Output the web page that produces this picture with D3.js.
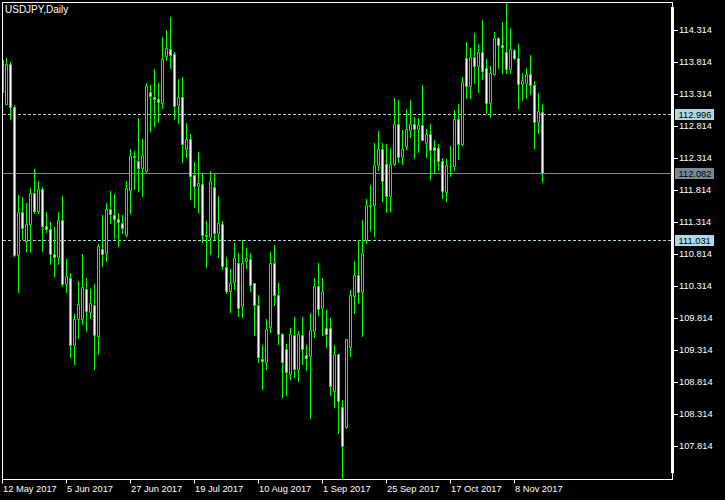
<!DOCTYPE html>
<html><head><meta charset="utf-8">
<script src="https://cdn.jsdelivr.net/npm/d3@7"></script>
<style>
html,body{margin:0;padding:0;background:#000;}
svg{display:block;}
text{font-family:"Liberation Sans",Arial,sans-serif;font-size:9px;}
</style></head><body>
<svg id="chart" width="725" height="500"></svg>
<script>
const symbolTitle = "USDJPY,Daily";

const opens = [113.841,113.164,113.789,113.117,110.799,111.477,111.024,111.289,111.774,111.486,
111.836,111.247,111.205,110.821,110.767,111.352,110.346,110.439,109.392,109.805,
109.805,110.274,109.914,110.024,109.533,110.899,110.833,111.524,111.430,111.367,
111.305,111.111,111.821,112.341,112.267,112.158,112.111,113.346,113.263,113.242,
113.180,113.908,114.024,113.935,113.142,113.274,112.461,112.617,112.044,111.883,
111.903,111.117,111.086,111.867,111.138,111.278,110.617,110.236,110.377,110.669,
110.002,110.700,110.732,110.357,110.017,109.169,109.127,109.674,110.680,110.174,
109.560,109.325,108.946,109.549,109.013,109.549,109.242,109.221,109.611,110.321,
109.971,109.664,109.664,108.674,109.258,108.430,108.117,109.361,110.158,110.482,
110.221,111.028,111.564,111.580,112.211,112.461,112.227,111.721,112.216,112.841,
112.336,112.502,112.752,112.852,112.763,112.825,112.555,112.696,112.486,112.477,
112.267,111.783,112.196,112.189,112.930,112.528,113.883,113.439,113.899,113.752,
113.977,113.727,113.174,113.622,114.196,114.086,113.977,113.711,114.002,113.883,
113.477,113.492,113.633,113.455,112.883,113.039];

const highs = [113.872,113.872,113.814,113.138,111.742,111.700,111.607,111.852,112.138,111.950,
111.861,111.466,111.310,111.232,111.477,111.716,110.732,110.524,109.872,110.388,
110.810,110.435,110.263,110.341,110.977,111.419,111.607,111.794,111.747,111.450,
111.424,111.950,112.461,112.419,112.935,112.607,113.482,113.450,113.700,113.482,
114.200,114.310,114.513,113.977,113.544,113.586,112.867,112.696,112.247,112.414,
112.086,111.325,112.107,112.060,111.721,111.330,110.774,110.586,110.982,110.825,
111.033,110.914,110.825,110.357,110.169,109.388,109.794,110.846,110.950,110.367,
109.586,109.414,109.653,109.830,109.611,109.836,109.399,109.888,110.435,110.669,
110.435,109.935,109.821,109.388,109.258,108.528,109.492,110.247,110.700,111.033,
111.341,111.669,111.888,112.544,112.732,112.555,112.539,112.477,113.258,113.216,
112.747,113.075,113.216,112.955,112.935,113.450,112.763,112.841,112.591,112.528,
112.310,112.294,112.502,113.060,113.153,113.586,114.127,114.039,114.263,114.091,
114.466,113.857,113.752,114.289,114.211,114.446,114.752,114.352,114.024,114.091,
113.649,113.727,113.919,113.517,113.336,113.153];

const lows = [113.325,113.153,112.930,110.783,110.221,111.044,110.861,110.846,111.461,111.461,
110.861,111.158,110.653,110.471,110.653,110.314,110.221,109.211,109.096,109.508,
109.716,109.607,109.814,109.013,109.247,110.627,110.705,111.294,111.064,110.939,
111.138,111.100,111.455,111.825,111.799,111.721,112.100,112.736,112.814,112.877,
113.096,113.846,113.716,112.919,112.861,112.252,112.330,111.669,111.549,111.471,
111.002,110.611,110.810,111.044,110.767,110.586,110.200,109.908,110.263,109.846,
109.830,110.602,110.236,109.549,109.127,108.700,109.013,109.596,110.013,109.414,
108.586,108.611,108.857,108.892,108.830,109.091,109.002,108.247,109.524,109.861,
109.544,109.361,108.607,108.424,108.013,107.310,108.102,109.221,109.888,110.044,
109.533,110.982,111.185,111.096,112.122,111.642,111.471,111.486,112.200,112.252,
112.227,112.450,112.642,112.314,112.408,112.591,112.330,111.982,112.086,112.122,
111.685,111.642,112.033,112.122,112.294,112.513,113.247,113.247,113.482,113.346,
113.544,113.024,112.955,113.607,113.727,113.638,113.649,113.638,113.857,113.091,
113.221,113.247,113.310,112.466,112.711,111.939];

const closes = [113.341,113.789,113.117,110.799,111.477,111.227,111.289,111.774,111.486,111.836,
111.252,111.205,110.821,110.767,111.352,110.346,110.477,109.392,109.805,110.039,
110.305,109.924,110.055,109.549,110.946,110.810,111.524,111.439,111.367,111.314,
111.221,111.852,112.352,112.330,112.158,112.367,113.446,113.283,113.242,113.189,
113.867,114.039,113.924,113.127,113.274,112.539,112.617,112.033,111.877,111.919,
111.111,111.096,111.955,111.138,111.305,110.627,110.236,110.367,110.747,109.977,
110.680,110.747,110.330,110.013,109.205,109.138,109.649,110.680,110.174,109.571,
109.127,108.971,109.560,109.024,109.560,109.336,109.189,109.622,110.321,109.950,
110.242,109.571,108.752,109.258,108.517,107.814,109.482,110.169,110.482,110.221,
110.836,111.575,111.586,112.211,112.461,111.955,111.721,112.227,112.841,112.330,
112.450,112.763,112.852,112.763,112.825,112.602,112.696,112.446,112.446,112.267,
111.799,112.200,112.193,112.930,112.539,113.508,113.439,113.899,113.752,113.977,
113.674,113.174,113.649,114.196,114.080,114.055,113.711,114.013,113.883,113.477,
113.528,113.633,113.455,112.883,113.049,112.082];

const dateTickIndex = [0,16,32,48,64,80,96,112,128];
const dateTickLabels = ["12 May 2017","5 Jun 2017","27 Jun 2017","19 Jul 2017","10 Aug 2017",
  "1 Sep 2017","25 Sep 2017","17 Oct 2017","8 Nov 2017"];
const priceTicks = [114.314,113.814,113.314,112.814,112.314,111.814,111.314,110.814,
  110.314,109.814,109.314,108.814,108.314,107.814];
const levelLines = [112.996,111.031];
const bidPrice = 112.082;

const svg = d3.select("#chart");
svg.append("rect").attr("width",725).attr("height",500).attr("fill","#000");

const x = d3.scaleLinear().domain([0,1]).range([2.5,6.5]);
const y = d3.scaleLinear().domain([107.814,114.314]).range([446.5,30.5]);
const sy = v => Math.round(y(v)-0.5)+0.5;

const bars = opens.map((o,i)=>({i,o,h:highs[i],l:lows[i],c:closes[i]}));

svg.append("defs").append("clipPath").attr("id","plotclip")
  .append("rect").attr("x",3).attr("y",3).attr("width",668).attr("height",476);

// horizontal level lines (behind candles)
const lines = svg.append("g").attr("clip-path","url(#plotclip)");
lines.selectAll("line.lvl").data(levelLines).join("line").attr("class","lvl")
  .attr("x1",3).attr("x2",671).attr("y1",d=>sy(d)).attr("y2",d=>sy(d))
  .attr("stroke","#add8e6").attr("stroke-width",1).attr("stroke-dasharray","3,2");
lines.append("line").attr("x1",3).attr("x2",671).attr("y1",sy(bidPrice)).attr("y2",sy(bidPrice))
  .attr("stroke","#778899").attr("stroke-width",1);

// candles
const cg = svg.append("g").attr("clip-path","url(#plotclip)");
cg.selectAll("line.wick").data(bars).join("line").attr("class","wick")
  .attr("x1",d=>x(d.i)).attr("x2",d=>x(d.i))
  .attr("y1",d=>sy(d.h)-0.5).attr("y2",d=>sy(d.l)+0.5)
  .attr("stroke","#00ff00").attr("stroke-width",1);
cg.selectAll("path.body").data(bars).join("path").attr("class","body")
  .attr("d",d=>{
    const t=sy(Math.max(d.o,d.c)), b=sy(Math.min(d.o,d.c)), cx=x(d.i);
    return `M${cx-1},${t}H${cx+1}V${b}H${cx-1}Z`;
  })
  .attr("fill",d=>d.c>=d.o?"#000":"#fff")
  .attr("stroke","#00ff00").attr("stroke-width",1);

// frame
svg.append("rect").attr("x",2.5).attr("y",2.5).attr("width",670).attr("height",477)
  .attr("fill","none").attr("stroke","#fff").attr("stroke-width",1);
svg.append("rect").attr("x",671).attr("y",7).attr("width",3).attr("height",466).attr("fill","#fff");

// price axis
const yAxis = d3.axisRight(y).tickValues(priceTicks).tickSize(4).tickPadding(1)
  .tickFormat(d3.format(".3f")).offset(0);
const ya = svg.append("g").attr("transform","translate(674,0)").call(yAxis);
ya.select(".domain").remove();
ya.selectAll(".tick line").attr("stroke","#fff");
ya.selectAll(".tick text").attr("fill","#fff").style("font-family",'"Liberation Sans",Arial,sans-serif').style("font-size","9.3px");

// highlighted price labels
const hl = [{v:levelLines[0],bg:"#add8e6"},{v:bidPrice,bg:"#778899"},{v:levelLines[1],bg:"#add8e6"}];
const hg = svg.append("g");
hg.selectAll("rect").data(hl).join("rect")
  .attr("x",675).attr("y",d=>sy(d.v)-5.5).attr("width",39).attr("height",11).attr("fill",d=>d.bg);
hg.selectAll("text").data(hl).join("text")
  .attr("x",678.5).attr("y",d=>sy(d.v)).attr("dy","0.34em").attr("fill","#000")
  .style("font-size","9.3px")
  .text(d=>d3.format(".3f")(d.v));

// time axis
const xAxis = d3.axisBottom(x).tickValues(dateTickIndex).tickSize(4).tickPadding(2)
  .tickFormat((d,i)=>dateTickLabels[i]).offset(0);
const xa = svg.append("g").attr("transform","translate(0,479.5)").call(xAxis);
xa.select(".domain").remove();
xa.selectAll(".tick line").attr("stroke","#fff");
xa.selectAll(".tick text").attr("fill","#fff").attr("text-anchor","start").attr("x",0.5)
  .style("font-family",'"Liberation Sans",Arial,sans-serif').style("font-size","9.3px");

// title
svg.append("text").attr("x",5).attr("y",12.5).attr("fill","#fff").style("font-size","10px").text(symbolTitle);
</script>
</body></html>
